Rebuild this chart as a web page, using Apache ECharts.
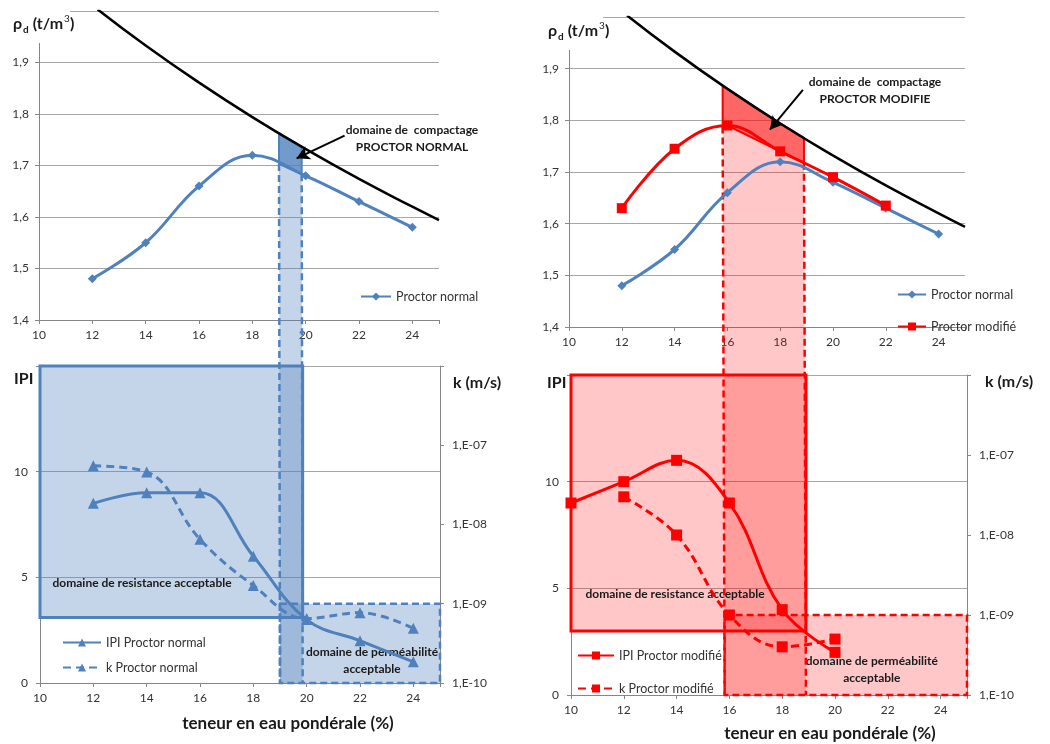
<!DOCTYPE html>
<html><head><meta charset="utf-8">
<script src="https://cdn.jsdelivr.net/npm/echarts@6/dist/echarts.min.js"></script>
<style>html,body{margin:0;padding:0;background:#fff}#c{width:1050px;height:744px}</style>
</head><body><div id="c"></div>
<script>
// ---------- DATA ----------
const xTicks = [10, 12, 14, 16, 18, 20, 22, 24];
const kTickLabels = ['1,E-07', '1,E-08', '1,E-09', '1,E-10'];
const saturation = [[12.2,2.003],[14,1.933],[16,1.861],[18,1.794],[20,1.732],[22,1.674],[24,1.620],[25,1.594]];
const proctorNormal = [[12,1.48],[14,1.55],[16,1.66],[18,1.72],[20,1.68],[22,1.63],[24,1.58]];
const proctorModifie = [[12,1.63],[14,1.745],[16,1.79],[18,1.74],[20,1.69],[22,1.635]];
const ipiNormal = [[12,8.5],[14,9],[16,9],[18,6],[20,3],[22,2],[24,1]];
const kNormal = [[12,5.5e-8],[14,4.6e-8],[16,6.5e-9],[18,1.7e-9],[20,6.5e-10],[22,7.7e-10],[24,4.9e-10]];
const ipiModifie = [[10,9],[12,10],[14,11],[16,9],[18,4],[20,2]];
const kModifie = [[12,3e-8],[14,1e-8],[16,1e-9],[18,4e-10],[20,5e-10]];
// compaction domains: lower edge (on Proctor curve) and upper edge (on saturation curve)
const compactNormalLower = [[19.0,1.703],[19.85,1.683]];
const compactNormalUpper = [[19.0,1.762],[19.85,1.736]];
const compactModifieLower = [[15.82,1.788],[16,1.79],[18,1.74],[18.9,1.718]];
const compactModifieUpper = [[15.82,1.867],[17,1.827],[18,1.794],[18.9,1.766]];
// acceptable domains
const resistNormal = [[10,3.1],[19.85,15]];
const permNormal = [[19.0,1e-9],[25,1e-10]];
const resistModifie = [[10,3],[18.9,15]];
const permModifie = [[15.82,1e-9],[25,1e-10]];
// annotation arrows (data coords)
const arrowNormal = [[21.46,1.758],[19.66,1.714]];
const arrowModifie = [[18.86,1.859],[17.61,1.782]];

// ---------- STYLE ----------
const FONT = 'Lato';
const BLUE = '#4F81BD', RED = '#FF0000';
const AX = '#868686', GRIDC = '#A6A6A6', LBL = '#333';

const chart = echarts.init(document.getElementById('c'));

function xAxis(gi){ return {type:'value', gridIndex:gi, min:10, max:25, interval:2,
  axisLine:{show:true, lineStyle:{color:AX}}, axisTick:{show:true, length:4, lineStyle:{color:AX}},
  splitLine:{show:false},
  axisLabel:{color:LBL, fontSize:12, margin:9, formatter: v => xTicks.indexOf(v) >= 0 ? String(v) : ''}}; }
function rhoAxis(gi){ return {type:'value', gridIndex:gi, min:1.4, max:2.0, interval:0.1,
  axisLine:{show:true, lineStyle:{color:AX}}, axisTick:{show:true, length:4, lineStyle:{color:AX}},
  splitLine:{show:true, lineStyle:{color:GRIDC}},
  axisLabel:{color:LBL, fontSize:12, margin:10, formatter: v => v > 1.95 ? '' : v.toFixed(1).replace('.', ',')}}; }
function ipiAxis(gi){ return {type:'value', gridIndex:gi, min:0, max:15, interval:5,
  axisLine:{show:true, lineStyle:{color:AX}}, axisTick:{show:true, length:4, lineStyle:{color:AX}},
  splitLine:{show:true, lineStyle:{color:GRIDC}},
  axisLabel:{color:LBL, fontSize:12, margin:12, formatter: v => v >= 15 ? '' : String(v)}}; }
function kAxis(gi){ return {type:'log', logBase:10, gridIndex:gi, position:'right', min:1e-10, max:1e-6,
  axisLine:{show:true, lineStyle:{color:AX}}, axisTick:{show:true, length:4, lineStyle:{color:AX}},
  splitLine:{show:false}, minorTick:{show:false},
  axisLabel:{color:LBL, fontSize:12, margin:12, formatter: v => {
    const e = Math.round(-Math.log10(v)); const i = e - 7; return (i >= 0 && i < kTickLabels.length) ? kTickLabels[i] : ''; }}}; }

function arrowLine(pts){ return {silent:true, symbol:['none','arrow'], symbolSize:[11,13],
  lineStyle:{color:'#000', width:2, type:'solid'}, label:{show:false},
  data:[[{coord:pts[0]},{coord:pts[1]}]]}; }

const labelStyle = {color:'#1a1a1a', fontWeight:'bold', fontSize:12, fontFamily:FONT, lineHeight:17};

const option = {
  animation:false,
  textStyle:{fontFamily:FONT},
  grid:[
    {left:39, top:11, width:400, height:309},
    {left:40, top:366, width:400, height:317},
    {left:569, top:17, width:396, height:310},
    {left:571, top:375, width:396, height:320}
  ],
  xAxis:[xAxis(0), xAxis(1), xAxis(2), xAxis(3)],
  yAxis:[rhoAxis(0), ipiAxis(1), kAxis(1), rhoAxis(2), ipiAxis(3), kAxis(3)],
  legend:[
    {data:['Proctor normal'], orient:'vertical', left:355, top:285, itemWidth:30, itemHeight:10,
     textStyle:{fontSize:12.5, color:LBL}},
    {data:['Proctor normal','Proctor modifié'], orient:'vertical', left:892, top:283, itemWidth:28, itemHeight:10, itemGap:19,
     textStyle:{fontSize:12.5, color:LBL}},
    {data:['IPI Proctor normal','k Proctor normal'], orient:'vertical', left:57, top:631, itemWidth:38, itemHeight:10, itemGap:12,
     textStyle:{fontSize:12.5, color:LBL}},
    {data:['IPI Proctor modifié','k Proctor modifié'], orient:'vertical', left:572, top:644, itemWidth:36, itemHeight:10, itemGap:20,
     textStyle:{fontSize:12.5, color:LBL}}
  ],
  series:[
    {name:'sat1', type:'line', xAxisIndex:0, yAxisIndex:0, data:saturation, smooth:0.5, symbol:'none',
     lineStyle:{color:'#000', width:2.5}, z:4, markLine:arrowLine(arrowNormal)},
    {name:'Proctor normal', type:'line', xAxisIndex:0, yAxisIndex:0, data:proctorNormal, smooth:0.4,
     symbol:'diamond', symbolSize:9, color:BLUE, lineStyle:{width:3}},
    {name:'IPI Proctor normal', type:'line', xAxisIndex:1, yAxisIndex:1, data:ipiNormal, smooth:0.4,
     symbol:'triangle', symbolSize:11, color:BLUE, lineStyle:{width:3},
     markArea:{silent:true, itemStyle:{color:'rgba(79,129,189,0.33)', borderColor:BLUE, borderWidth:3},
       label:Object.assign({show:true, position:'insideBottomLeft', offset:[9,-22]}, labelStyle),
       data:[[{name:'domaine de resistance acceptable', coord:resistNormal[0]},{coord:resistNormal[1]}]]}},
    {name:'k Proctor normal', type:'line', xAxisIndex:1, yAxisIndex:2, data:kNormal, smooth:0.4,
     symbol:'triangle', symbolSize:11, color:BLUE, lineStyle:{width:3, type:[8,5]},
     markArea:{silent:true, itemStyle:{color:'rgba(79,129,189,0.33)', borderColor:BLUE, borderWidth:2.5, borderType:[7,4]},
       label:Object.assign({show:true, position:'inside', offset:[12,17]}, labelStyle),
       data:[[{name:'domaine de perméabilité\nacceptable', coord:permNormal[0]},{coord:permNormal[1]}]]}},
    {name:'sat2', type:'line', xAxisIndex:2, yAxisIndex:3, data:saturation, smooth:0.5, symbol:'none',
     lineStyle:{color:'#000', width:2.5}, z:4, markLine:arrowLine(arrowModifie)},
    {name:'Proctor normal', type:'line', xAxisIndex:2, yAxisIndex:3, data:proctorNormal, smooth:0.4,
     symbol:'diamond', symbolSize:9, color:BLUE, lineStyle:{width:3}},
    {name:'Proctor modifié', type:'line', xAxisIndex:2, yAxisIndex:3, data:proctorModifie, smooth:0.4,
     symbol:'rect', symbolSize:10, color:RED, lineStyle:{width:3}, z:3},
    {name:'IPI Proctor modifié', type:'line', xAxisIndex:3, yAxisIndex:4, data:ipiModifie, smooth:0.4,
     symbol:'rect', symbolSize:11, color:RED, lineStyle:{width:3},
     markArea:{silent:true, itemStyle:{color:'rgba(255,0,0,0.22)', borderColor:RED, borderWidth:3},
       label:Object.assign({show:true, position:'insideBottomLeft', offset:[11,-25]}, labelStyle),
       data:[[{name:'domaine de resistance acceptable', coord:resistModifie[0]},{coord:resistModifie[1]}]]}},
    {name:'k Proctor modifié', type:'line', xAxisIndex:3, yAxisIndex:5, data:kModifie, smooth:0.4,
     symbol:'rect', symbolSize:11, color:RED, lineStyle:{width:3, type:[8,5]},
     markArea:{silent:true, itemStyle:{color:'rgba(255,0,0,0.22)', borderColor:RED, borderWidth:2.5, borderType:[7,4]},
       label:Object.assign({show:true, position:'inside', offset:[26,15]}, labelStyle),
       data:[[{name:'domaine de perméabilité\nacceptable', coord:permModifie[0]},{coord:permModifie[1]}]]}}
  ]
};
chart.setOption(option);

// ---------- GRAPHICS (zones computed through the axes) ----------
function P(xi, yi, p){ return chart.convertToPixel({xAxisIndex:xi, yAxisIndex:yi}, p); }
function zone(lower, upper, xiTop, yiTop, xiBot, yiBot, light, dark, stroke){
  const els = [];
  const low = lower.map(p => P(xiTop, yiTop, p));
  const up = upper.map(p => P(xiTop, yiTop, p));
  const x0 = lower[0][0], x1 = lower[lower.length-1][0];
  const b0 = P(xiBot, yiBot, [x0, 0]), b1 = P(xiBot, yiBot, [x1, 0]);
  els.push({type:'polygon', z:1, silent:true, shape:{points: low.concat([b1, b0])}, style:{fill:light}});
  els.push({type:'line', z:3, silent:true, shape:{x1:low[0][0], y1:low[0][1], x2:b0[0], y2:b0[1]},
    style:{stroke:stroke, lineWidth:2.5, lineDash:[7,4]}});
  els.push({type:'line', z:3, silent:true, shape:{x1:low[low.length-1][0], y1:low[low.length-1][1], x2:b1[0], y2:b1[1]},
    style:{stroke:stroke, lineWidth:2.5, lineDash:[7,4]}});
  els.push({type:'polygon', z:1, silent:true, shape:{points: low.concat(up.slice().reverse())},
    style:{fill:dark, stroke:stroke, lineWidth:2, lineJoin:'round'}});
  return els;
}
function rhoTitle(x, y){ return {type:'text', z:7, x:x, y:y, style:{
  text:'{r|ρ}{s|d}{r| (t/m}{p|3}{r|)}', fill:'#1a1a1a', verticalAlign:'middle',
  rich:{r:{fontSize:16, fontWeight:'bold', fontFamily:FONT, fill:'#1a1a1a', lineHeight:22, verticalAlign:'middle'},
        s:{fontSize:10, fontWeight:'bold', fontFamily:FONT, fill:'#1a1a1a', lineHeight:22, verticalAlign:'bottom', padding:[0,0,0,1]},
        p:{fontSize:10, fontFamily:FONT, fill:'#1a1a1a', lineHeight:22, verticalAlign:'top', padding:[1,0,0,1]}}}}; }
function txt(x, y, s, size, weight, align){ return {type:'text', z:7, x:x, y:y, silent:true, style:{
  text:s, fontSize:size, fontWeight:weight, fontFamily:FONT, fill:'#1a1a1a', align:align||'left', verticalAlign:'middle', lineHeight:size+5}}; }

const g = [];
g.push(...zone(compactNormalLower, compactNormalUpper, 0, 0, 1, 1, 'rgba(79,129,189,0.33)', 'rgba(79,129,189,0.8)', BLUE));
g.push(...zone(compactModifieLower, compactModifieUpper, 2, 3, 3, 4, 'rgba(255,0,0,0.22)', 'rgba(255,0,0,0.6)', RED));
g.push({type:'rect', z:6, silent:true, shape:{x:0, y:0, width:70, height:43}, style:{fill:'#fff'}});
g.push({type:'rect', z:6, silent:true, shape:{x:520, y:0, width:83, height:50}, style:{fill:'#fff'}});
g.push(rhoTitle(13, 24));
g.push(rhoTitle(548, 31));
g.push(txt(14, 379, 'IPI', 16, 'bold'));
g.push(txt(547, 383, 'IPI', 16, 'bold'));
g.push(txt(453, 383, 'k (m/s)', 16, 'bold'));
g.push(txt(985, 382, 'k (m/s)', 16, 'bold'));
g.push(txt(288, 724, 'teneur en eau pondérale (%)', 17, 'bold', 'center'));
g.push(txt(830, 734, 'teneur en eau pondérale (%)', 17, 'bold', 'center'));
g.push(txt(412, 139, 'domaine de  compactage\nPROCTOR NORMAL', 12, 'bold', 'center'));
g.push(txt(875, 91, 'domaine de  compactage\nPROCTOR MODIFIE', 12, 'bold', 'center'));
chart.setOption({graphic: g});
</script></body></html>
